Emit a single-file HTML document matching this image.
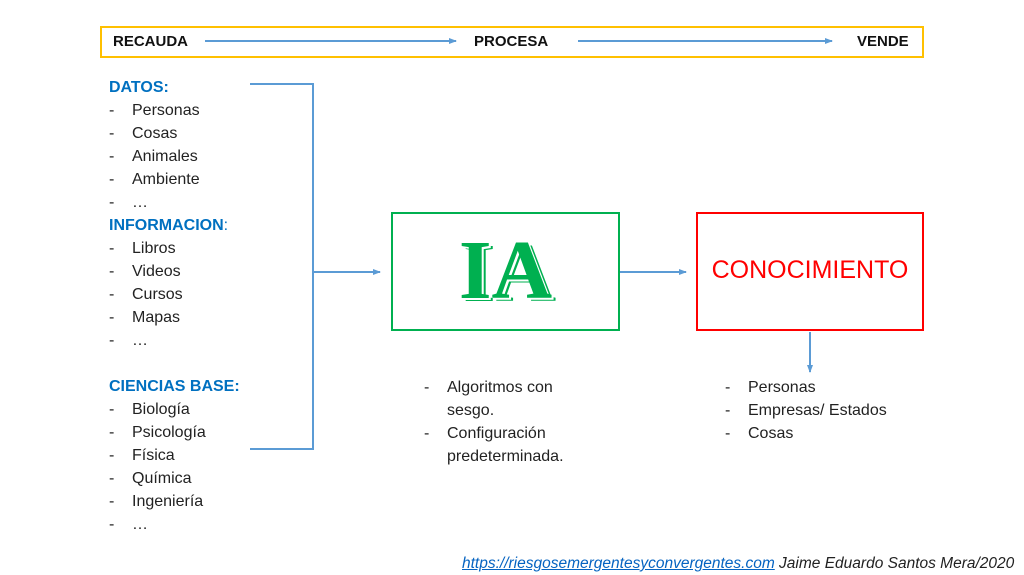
<!DOCTYPE html>
<html><head><meta charset="utf-8"><style>
body{margin:0;width:1024px;height:575px;background:#fff;position:relative;overflow:hidden;font-family:"Liberation Sans",sans-serif;}
.t{position:absolute;font-size:16px;color:#222;line-height:20px;white-space:nowrap}
.h{color:#0070c0;font-weight:bold}
</style></head><body>
<div style="position:absolute;left:100px;top:26px;width:820px;height:28px;border:2px solid #ffc000"></div>
<div class="t" style="left:113px;top:32px;font-weight:bold;font-size:15px;color:#111">RECAUDA</div>
<div class="t" style="left:474px;top:32px;font-weight:bold;font-size:15px;color:#111">PROCESA</div>
<div class="t" style="left:857px;top:32px;font-weight:bold;font-size:15px;color:#111">VENDE</div>
<svg width="1024" height="575" style="position:absolute;left:0;top:0">
<defs><marker id="a" markerWidth="8" markerHeight="8" refX="7" refY="4" orient="auto" markerUnits="userSpaceOnUse"><path d="M0,1 L8,4 L0,7z" fill="#5b9bd5"/></marker></defs>
<g stroke="#5b9bd5" stroke-width="2" fill="none">
<line x1="205" y1="41" x2="456" y2="41" marker-end="url(#a)"/>
<line x1="578" y1="41" x2="832" y2="41" marker-end="url(#a)"/>
<polyline points="250,84 313,84 313,449 250,449"/>
<line x1="313" y1="272" x2="380" y2="272" marker-end="url(#a)"/>
<line x1="620" y1="272" x2="686" y2="272" marker-end="url(#a)"/>
<line x1="810" y1="332" x2="810" y2="372" marker-end="url(#a)"/>
</g>
<rect x="392" y="213" width="227" height="117" fill="none" stroke="#00b050" stroke-width="2"/>
<rect x="697" y="213" width="226" height="117" fill="none" stroke="#ff0000" stroke-width="2"/>
</svg>
<div style="position:absolute;left:392px;top:226px;width:227px;text-align:center;font-family:'Liberation Serif',serif;font-weight:bold;font-size:84px;line-height:90px;color:#00b050;text-shadow:2px 2px 0 #fff,4px 3px 0 #00b050">IA</div>
<div style="position:absolute;left:697px;top:256px;width:226px;text-align:center;font-size:25px;color:#ff0000">CONOCIMIENTO</div>
<div class="t h" style="left:109px;top:78px">DATOS:</div>
<div class="t" style="left:109px;top:101px">-</div><div class="t" style="left:132px;top:101px">Personas</div>
<div class="t" style="left:109px;top:124px">-</div><div class="t" style="left:132px;top:124px">Cosas</div>
<div class="t" style="left:109px;top:147px">-</div><div class="t" style="left:132px;top:147px">Animales</div>
<div class="t" style="left:109px;top:170px">-</div><div class="t" style="left:132px;top:170px">Ambiente</div>
<div class="t" style="left:109px;top:193px">-</div><div class="t" style="left:132px;top:193px">…</div>
<div class="t h" style="left:109px;top:216px">INFORMACION<span style="font-weight:normal">:</span></div>
<div class="t" style="left:109px;top:239px">-</div><div class="t" style="left:132px;top:239px">Libros</div>
<div class="t" style="left:109px;top:262px">-</div><div class="t" style="left:132px;top:262px">Videos</div>
<div class="t" style="left:109px;top:285px">-</div><div class="t" style="left:132px;top:285px">Cursos</div>
<div class="t" style="left:109px;top:308px">-</div><div class="t" style="left:132px;top:308px">Mapas</div>
<div class="t" style="left:109px;top:331px">-</div><div class="t" style="left:132px;top:331px">…</div>
<div class="t h" style="left:109px;top:377px">CIENCIAS BASE:</div>
<div class="t" style="left:109px;top:400px">-</div><div class="t" style="left:132px;top:400px">Biología</div>
<div class="t" style="left:109px;top:423px">-</div><div class="t" style="left:132px;top:423px">Psicología</div>
<div class="t" style="left:109px;top:446px">-</div><div class="t" style="left:132px;top:446px">Física</div>
<div class="t" style="left:109px;top:469px">-</div><div class="t" style="left:132px;top:469px">Química</div>
<div class="t" style="left:109px;top:492px">-</div><div class="t" style="left:132px;top:492px">Ingeniería</div>
<div class="t" style="left:109px;top:515px">-</div><div class="t" style="left:132px;top:515px">…</div>
<div class="t" style="left:424px;top:378px">-</div><div class="t" style="left:447px;top:378px">Algoritmos con</div>
<div class="t" style="left:447px;top:401px">sesgo.</div>
<div class="t" style="left:424px;top:424px">-</div><div class="t" style="left:447px;top:424px">Configuración</div>
<div class="t" style="left:447px;top:447px">predeterminada.</div>
<div class="t" style="left:725px;top:378px">-</div><div class="t" style="left:748px;top:378px">Personas</div>
<div class="t" style="left:725px;top:401px">-</div><div class="t" style="left:748px;top:401px">Empresas/ Estados</div>
<div class="t" style="left:725px;top:424px">-</div><div class="t" style="left:748px;top:424px">Cosas</div>
<div class="t" style="left:462px;top:554px;font-size:15.5px;font-style:italic"><span style="color:#0563c1;text-decoration:underline">https://riesgosemergentesyconvergentes.com</span> Jaime Eduardo Santos Mera/2020</div>
</body></html>
